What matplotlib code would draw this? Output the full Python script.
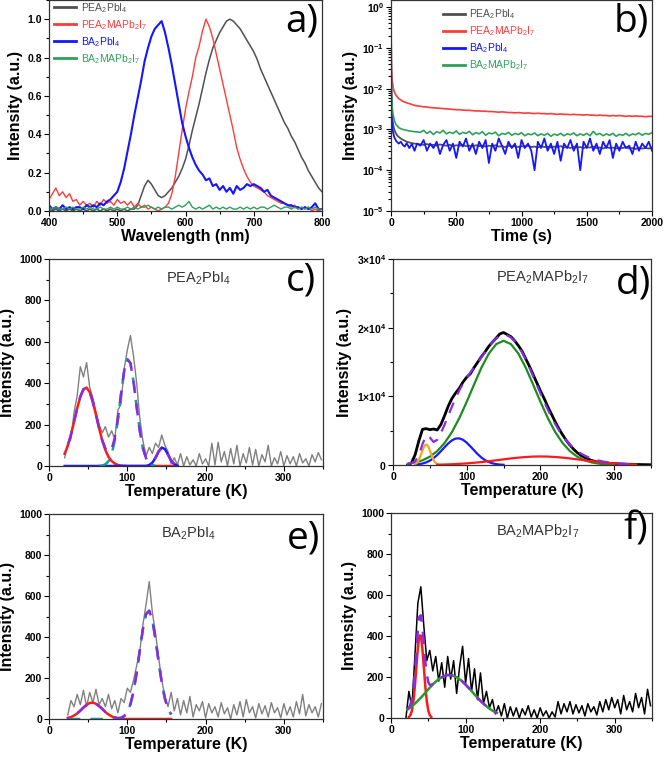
import numpy as np
import matplotlib.pyplot as plt
from matplotlib.ticker import MultipleLocator, LogLocator, NullFormatter, FixedLocator

FONT = 'Liberation Sans'
plt.rcParams['font.family'] = [FONT, 'DejaVu Sans']
plt.rcParams['mathtext.fontset'] = 'custom'
plt.rcParams['mathtext.rm'] = FONT
plt.rcParams['mathtext.bf'] = FONT + ':bold'
plt.rcParams['mathtext.it'] = FONT + ':italic'
plt.rcParams['mathtext.default'] = 'regular'

names = [r'PEA$_2$PbI$_4$', r'PEA$_2$MAPb$_2$I$_7$', r'BA$_2$PbI$_4$', r'BA$_2$MAPb$_2$I$_7$']
colors_a = ['#505050', '#ff3b3b', '#1515ff', '#2ea05a']

# ---- a) PL spectra, 400..800 nm every 5 nm
wl_start, wl_step = 400, 5
pl_pea = [0.01, 0.0, 0.01, 0.0, 0.01, 0.0, 0.01, 0.0, 0.01, 0.0,
          0.01, 0.0, 0.01, 0.0, 0.01, 0.0, 0.01, 0.0, 0.01, 0.0,
          0.01, 0.0, 0.01, 0.0, 0.01, 0.01,
          0.03, 0.08, 0.13, 0.16, 0.14, 0.11, 0.08, 0.07, 0.08, 0.10,
          0.12, 0.15, 0.18, 0.22, 0.27, 0.34, 0.42, 0.49, 0.56, 0.64,
          0.72, 0.79, 0.85, 0.89, 0.93, 0.96, 0.99, 1.0, 0.99, 0.97,
          0.95, 0.92, 0.89, 0.86, 0.83, 0.79, 0.74, 0.70, 0.66, 0.62,
          0.58, 0.54, 0.50, 0.46, 0.43, 0.39, 0.36, 0.32, 0.28, 0.25,
          0.21, 0.18, 0.15, 0.12, 0.10]
pl_pea_ma = [0.06, 0.09, 0.12, 0.08, 0.10, 0.07, 0.09, 0.05, 0.06, 0.03,
             0.05, 0.03, 0.04, 0.02, 0.05, 0.03, 0.06, 0.04, 0.05, 0.03,
             0.06, 0.04, 0.05, 0.03, 0.05, 0.02, 0.04, 0.02, 0.03, 0.01,
             0.02, 0.01, 0.00, 0.01, 0.02, 0.04, 0.09, 0.18, 0.30, 0.42,
             0.53, 0.62, 0.70, 0.80, 0.86, 0.94, 1.00, 0.96, 0.90, 0.82,
             0.74, 0.66, 0.58, 0.50, 0.42, 0.33, 0.27, 0.22, 0.18, 0.15,
             0.13, 0.12, 0.11, 0.10, 0.08, 0.07, 0.06, 0.05, 0.04, 0.04,
             0.03, 0.02, 0.03, 0.01, 0.02, 0.01, 0.02, 0.00, 0.01, 0.00, 0.01]
pl_ba = [0.03, 0.01, 0.02, 0.01, 0.03, 0.01, 0.02, 0.01, 0.02, 0.02,
         0.01, 0.03, 0.02, 0.03, 0.02, 0.04, 0.03, 0.05, 0.06, 0.08,
         0.10, 0.15, 0.22, 0.31, 0.40, 0.50, 0.59, 0.68, 0.78, 0.85,
         0.91, 0.95, 0.97, 0.99, 0.93, 0.85, 0.76, 0.66, 0.56, 0.46,
         0.39, 0.33, 0.28, 0.24, 0.21, 0.19, 0.16, 0.17, 0.13, 0.14,
         0.11, 0.13, 0.10, 0.12, 0.09, 0.13, 0.11, 0.12, 0.14, 0.13,
         0.14, 0.13, 0.12, 0.10, 0.11, 0.08, 0.07, 0.06, 0.05, 0.04,
         0.03, 0.03, 0.02, 0.02, 0.01, 0.02, 0.01, 0.02, 0.04, 0.01, 0.01]
pl_ba_ma = [0.02, 0.01, 0.02, 0.01, 0.01, 0.02, 0.01, 0.02, 0.01, 0.01,
            0.02, 0.01, 0.02, 0.01, 0.01, 0.02, 0.01, 0.01, 0.02, 0.01,
            0.02, 0.01, 0.01, 0.02, 0.01, 0.02, 0.01, 0.02, 0.02, 0.03,
            0.02, 0.01, 0.02, 0.01, 0.02, 0.02, 0.01, 0.02, 0.03, 0.02,
            0.03, 0.05, 0.02, 0.01, 0.02, 0.01, 0.02, 0.03, 0.01, 0.02,
            0.01, 0.02, 0.01, 0.02, 0.01, 0.01, 0.02, 0.01, 0.02, 0.01,
            0.02, 0.01, 0.02, 0.02, 0.01, 0.02, 0.03, 0.02, 0.01, 0.02,
            0.02, 0.01, 0.02, 0.01, 0.02, 0.01, 0.02, 0.01, 0.02, 0.01, 0.01]

# ---- b) decay, values in units of 1e-3
t_early = [0, 2, 4, 6, 8, 10, 13, 16, 20, 25, 30, 40, 50, 60, 75, 90, 105, 120, 140, 160, 180, 200]
t_late_start, t_late_step = 225, 25
dec_pea = [1000, 20, 6, 3.5, 2.6, 2.0, 1.6, 1.35, 1.15, 1.0, 0.9, 0.78, 0.7, 0.65, 0.6, 0.56,
           0.53, 0.5, 0.48, 0.46, 0.45, 0.44,
           0.43, 0.42, 0.44, 0.41, 0.42, 0.40, 0.43, 0.41, 0.40, 0.42, 0.39, 0.41,
           0.40, 0.42, 0.39, 0.40, 0.38, 0.41, 0.39, 0.40, 0.38, 0.40, 0.39, 0.41,
           0.38, 0.39, 0.37, 0.40, 0.38, 0.39, 0.37, 0.39, 0.38, 0.40, 0.37, 0.38,
           0.36, 0.39, 0.37, 0.38, 0.36, 0.38, 0.37, 0.39, 0.36, 0.37, 0.35, 0.38,
           0.36, 0.37, 0.35, 0.37, 0.36, 0.38, 0.35, 0.36, 0.34, 0.37, 0.35, 0.36,
           0.34, 0.36, 0.35, 0.37, 0.34, 0.35, 0.33, 0.36, 0.34, 0.35, 0.34, 0.36]
dec_pea_ma = [1000, 50, 30, 22, 18, 15, 13, 11, 9.5, 8.5, 7.7, 6.8, 6.2, 5.7, 5.3, 4.9,
              4.7, 4.5, 4.3, 4.1, 3.9, 3.8,
              3.7, 3.6, 3.55, 3.45, 3.4, 3.35, 3.3, 3.25, 3.2, 3.15, 3.1, 3.05,
              3.05, 3.0, 2.95, 2.95, 2.9, 2.85, 2.85, 2.8, 2.8, 2.75, 2.75, 2.7,
              2.65, 2.7, 2.65, 2.6, 2.6, 2.55, 2.6, 2.55, 2.5, 2.55, 2.5, 2.45,
              2.5, 2.45, 2.45, 2.4, 2.45, 2.4, 2.35, 2.4, 2.35, 2.35, 2.3, 2.35,
              2.3, 2.3, 2.25, 2.3, 2.25, 2.25, 2.2, 2.25, 2.2, 2.2, 2.15, 2.2,
              2.15, 2.2, 2.15, 2.1, 2.15, 2.1, 2.15, 2.1, 2.1, 2.05, 2.1, 2.1]
dec_ba = [1000, 8, 2.5, 1.6, 1.3, 1.1, 0.95, 0.85, 0.75, 0.65, 0.6, 0.52, 0.48, 0.45, 0.5, 0.42,
          0.38, 0.46, 0.35, 0.44, 0.3, 0.45,
          0.4, 0.55, 0.3, 0.45, 0.35, 0.5, 0.25, 0.42, 0.55, 0.3, 0.45, 0.2,
          0.5, 0.38, 0.6, 0.3, 0.45, 0.25, 0.5, 0.35, 0.55, 0.15, 0.45, 0.3,
          0.6, 0.4, 0.25, 0.5, 0.35, 0.45, 0.2, 0.55, 0.35, 0.45, 0.3, 0.1,
          0.5, 0.35, 0.6, 0.3, 0.45, 0.25, 0.5, 0.17, 0.45, 0.35, 0.55, 0.3,
          0.45, 0.1, 0.5, 0.35, 0.6, 0.3, 0.45, 0.25, 0.5, 0.35, 0.55, 0.2,
          0.45, 0.3, 0.5, 0.35, 0.4, 0.25, 0.5, 0.3, 0.45, 0.35, 0.5, 0.3]
dec_ba_ma = [1000, 30, 8, 5, 4, 3.3, 2.7, 2.3, 2.0, 1.7, 1.5, 1.3, 1.2, 1.1, 1.05, 1.0,
             0.98, 0.95, 0.92, 0.9, 0.88, 0.87,
             0.85, 0.95, 0.8, 0.9, 0.75, 0.88, 0.82, 0.95, 0.78, 0.86, 0.8, 0.92,
             0.76, 0.85, 0.8, 0.9, 0.74, 0.84, 0.78, 0.88, 0.72, 0.82, 0.78, 0.86,
             0.7, 0.8, 0.76, 0.85, 0.72, 0.8, 0.75, 0.83, 0.7, 0.78, 0.74, 0.82,
             0.7, 0.78, 0.72, 0.8, 0.68, 0.77, 0.72, 0.8, 0.7, 0.78, 0.74, 0.82,
             0.7, 0.78, 0.72, 0.8, 0.7, 0.9, 0.74, 0.8, 0.7, 0.78, 0.72, 0.8,
             0.68, 0.76, 0.72, 0.8, 0.7, 0.78, 0.74, 0.82, 0.72, 0.8, 0.76, 0.84]

# ---- c) PEA2PbI4 TL, data from 20 K every 4 K
c_counts = [40, 110, 130, 260, 340, 480, 430, 500, 380, 330,
            260, 200, 160, 190, 140, 170, 130, 270, 300, 470,
            560, 630, 530, 400, 230, 120, 50, 90, 60, 110,
            90, 150, 100, 70, 10, 40, 5, 60, 0, 45,
            5, 30, 0, 60, 10, 35, 0, 110, 5, 115,
            20, 70, 0, 85, 10, 100, 0, 60, 15, 90,
            5, 80, 0, 55, 20, 100, 0, 40, 10, 70,
            0, 50, 10, 45, 0, 60, 15, 35, 0, 55,
            20, 65, 30]
c_fit_red = [59, 98, 151, 214, 279, 335, 371, 379, 357, 309, 247, 182, 123, 77, 44, 24, 12, 5, 2, 1,
             0, 0, 0, 0, 0, 0, 0, 0, 0, 0, 0, 0, 0, 0, 0, 0, 0]
c_fit_teal = [1, 2, 8, 23, 57, 123, 223, 347, 459, 517, 497, 407, 284, 169, 85, 37, 14, 4, 1]
c_fit_blue = [0] * 27 + [5, 16, 39, 70, 89, 82, 55, 26, 9, 2]
c_fit_sum = [59, 98, 151, 214, 279, 335, 371, 379, 357, 309, 247, 183, 125, 85, 67, 81, 135, 228,
             349, 460, 517, 497, 407, 284, 169, 85, 37, 19, 20, 40, 70, 89, 82, 55, 26, 9, 2]

# ---- d) PEA2MAPb2I7 TL
d_counts = [0, 300, 1500, 3500, 5200, 5300, 5150, 5250, 5100, 5900,
            7200, 8600, 9700, 10500, 11200, 12100, 12800, 13300, 14200, 15000,
            15800, 16500, 17300, 17900, 18500, 19100, 19300, 19000, 18700, 18100,
            17400, 16600, 15500, 14400, 13200, 12000, 10800, 9700, 8500, 7400,
            6300, 5300, 4400, 3600, 2900, 2300, 1800, 1400, 1100, 850,
            650, 500, 400, 330, 280, 240, 200, 180, 150, 130,
            110, 100, 80, 70, 60, 50, 40]
d_fit_green = [188, 369, 688, 1210, 2025, 3210, 4810, 6840, 9210, 11740, 14190, 16240, 17610, 18100,
               17610, 16240, 14190, 11740, 9210, 6840, 4810, 3210, 2025, 1210, 688, 369, 188, 90, 42]
d_fit_blue = [58, 117, 219, 386, 641, 999, 1463, 2014, 2602, 3157, 3600, 3856, 3880, 3670, 3257,
              2718, 2130, 1568, 1084, 705, 430, 247, 133, 67, 32]
d_fit_orange = [132, 286, 559, 974, 1519, 2121, 2647, 2959, 2959, 2647, 2121, 1519, 974, 559, 286, 132, 55]
d_fit_red = [49, 77, 116, 169, 240, 328, 434, 556, 690, 827, 960, 1077, 1170, 1230, 1250, 1230, 1170,
             1077, 960, 827, 690, 556, 434, 328, 240, 169, 116, 77]
d_fit_sum = [197, 283, 572, 1388, 3048, 4329, 4003, 3361, 3669, 4666,
             5889, 7202, 8526, 9776, 10889, 11860, 12707, 13461, 14198, 14948,
             15708, 16489, 17226, 17899, 18433, 18804, 18959, 18874, 18570, 18051,
             17317, 16418, 15360, 14204, 12970, 11705, 10460, 9235, 8070, 6979,
             5980, 5083, 4287, 3591, 2985, 2469, 2037, 1676, 1378, 1129,
             925, 758, 622, 510, 418, 342, 282, 230, 189, 152, 126]

# ---- e) BA2PbI4 TL, data from 24 K every 4 K
e_counts = [20, 90, 60, 120, 70, 140, 60, 130, 80, 145,
            70, 100, 60, 120, 50, 90, 30, 100, 80, 150,
            130, 190, 260, 330, 460, 560, 670, 520, 420, 300,
            190, 110, 60, 130, 40, 100, 20, 90, 30, 110,
            10, 70, 40, 85, 5, 75, 30, 60, 10, 80,
            25, 55, 0, 70, 20, 85, 10, 95, 30, 60,
            5, 75, 25, 65, 10, 80, 30, 55, 5, 75,
            20, 60, 10, 85, 25, 120, 15, 70, 30, 60,
            10, 75]
e_fit_red = [5, 9, 17, 27, 41, 56, 69, 78, 80, 74, 63, 49, 34, 22, 13, 7, 3, 1] + [0] * 16
e_fit_teal = [0] * 15 + [1, 2, 5, 14, 34, 72, 135, 226, 336, 440, 512, 528, 482, 390, 280, 178, 100, 50, 22]
e_fit_sum = [5, 9, 17, 27, 41, 56, 69, 78, 80, 74, 63, 49, 34, 22, 13, 8, 5, 6, 14, 34, 72, 135,
             226, 336, 440, 512, 528, 482, 390, 280, 178, 100, 50, 22]

# ---- f) BA2MAPb2I7 TL, data from 20 K every 4 K
f_counts = [0, 130, 50, 300, 560, 640, 450, 280, 330, 230,
            300, 180, 270, 150, 300, 190, 280, 120, 250, 350,
            170, 290, 130, 240, 90, 220, 70, 130, 50, 90,
            20, 60, 10, 70, 0, 55, 10, 50, 0, 45,
            15, 60, 5, 40, 0, 50, 10, 35, 0, 30,
            5, 80, 20, 70, 30, 80, 20, 65, 25, 60,
            10, 70, 30, 55, 15, 80, 30, 90, 40, 100,
            50, 90, 20, 110, 40, 80, 30, 120, 50, 100,
            20, 140, 60]
f_fit_red = [5, 14, 36, 81, 154, 249, 342, 402, 402, 342, 249, 154, 81, 36, 14, 5]
f_fit_green = [41, 57, 77, 99, 123, 148, 171, 190, 203, 210, 208, 199, 184, 163, 140, 115, 91, 70, 51, 36, 25]
f_sum_t = [22, 24, 26, 28, 30, 32, 34, 36, 38, 40, 42, 44, 46, 48, 50, 52, 54,
           58, 64, 70, 76, 82, 88, 94, 100, 106, 112, 118, 124, 130, 136, 142]
f_fit_sum = [43, 51, 64, 93, 144, 224, 326, 426, 494, 501, 449, 364, 277, 212, 175, 162, 161,
             171, 190, 203, 210, 208, 199, 184, 163, 140, 115, 91, 70, 51, 36, 25]


def grid(start, step, vals):
    return start + step * np.arange(len(vals))


def style(ax, xlabel):
    ax.set_xlabel(xlabel, fontsize=11.5, labelpad=1, fontfamily=FONT, fontweight='bold')
    ax.set_ylabel('Intensity (a.u.)', fontsize=11.5, labelpad=3, fontfamily=FONT, fontweight='bold')
    ax.tick_params(which='both', direction='out', labelsize=7.5, width=0.8, pad=1.5)
    ax.tick_params(which='major', length=3.5)
    ax.tick_params(which='minor', length=2)
    for s in ax.spines.values():
        s.set_linewidth(0.9)
        s.set_color('#333333')


def bold_ticks(ax):
    for lbl in ax.get_xticklabels() + ax.get_yticklabels():
        lbl.set_fontfamily(FONT)
        lbl.set_fontweight('bold')


def letter(ax, txt, x, y):
    ax.text(x, y, txt, transform=ax.transAxes, ha='right', va='top', fontsize=28,
            fontweight='normal', fontfamily=['Open Sans', 'DejaVu Sans'])


def sample(ax, txt, x, y):
    ax.text(x, y, txt, transform=ax.transAxes, ha='center', va='top', fontsize=10.5,
            fontweight='normal', fontfamily=FONT, color='#333333')


legend_font = {'family': FONT, 'size': 7.5, 'weight': 'normal'}

fig = plt.figure(figsize=(6.66, 7.57), dpi=100)
ax_a = fig.add_axes([0.0736, 0.7213, 0.4099, 0.2787])
ax_b = fig.add_axes([0.5871, 0.7213, 0.3919, 0.2787])
ax_c = fig.add_axes([0.0736, 0.3844, 0.4114, 0.2734])
ax_d = fig.add_axes([0.5901, 0.3857, 0.3874, 0.2721])
ax_e = fig.add_axes([0.0736, 0.0502, 0.4114, 0.2708])
ax_f = fig.add_axes([0.5871, 0.0515, 0.3919, 0.2708])

# a
for vals, name, col, lw in zip([pl_pea, pl_pea_ma, pl_ba, pl_ba_ma], names, colors_a, [1.1, 1.0, 1.5, 1.0]):
    ax_a.plot(grid(wl_start, wl_step, vals), vals, color=col, lw=lw, label=name)
ax_a.set_xlim(400, 800)
ax_a.set_ylim(0, 1.1)
ax_a.set_xticks([400, 500, 600, 700, 800])
ax_a.set_yticks([0, 0.2, 0.4, 0.6, 0.8, 1.0])
ax_a.xaxis.set_minor_locator(MultipleLocator(50))
ax_a.yaxis.set_minor_locator(MultipleLocator(0.1))
style(ax_a, 'Wavelength (nm)')
leg = ax_a.legend(loc='upper left', bbox_to_anchor=(0.02, 0.995), frameon=False, handlelength=2.1,
                  handletextpad=0.4, labelspacing=0.3, borderaxespad=0, borderpad=0,
                  prop=legend_font, labelcolor='linecolor')
for h in leg.get_lines():
    h.set_linewidth(2)
letter(ax_a, 'a)', 0.985, 0.99)

# b
t_all = np.concatenate([t_early, grid(t_late_start, t_late_step, dec_pea[len(t_early):])])
for vals, name, col, lw in zip([dec_pea, dec_pea_ma, dec_ba, dec_ba_ma], names, colors_a, [1.3, 1.2, 1.3, 1.2]):
    ax_b.plot(t_all, np.array(vals) * 1e-3, color=col, lw=lw, label=name)
ax_b.set_yscale('log')
ax_b.set_xlim(0, 2000)
ax_b.set_ylim(1e-5, 1.5)
ax_b.set_xticks([0, 500, 1000, 1500, 2000])
ax_b.xaxis.set_minor_locator(MultipleLocator(250))
ax_b.yaxis.set_major_locator(FixedLocator([1e-5, 1e-4, 1e-3, 1e-2, 1e-1, 1]))
ax_b.set_yticklabels([r'$\mathbf{10^{-5}}$', r'$\mathbf{10^{-4}}$', r'$\mathbf{10^{-3}}$',
                      r'$\mathbf{10^{-2}}$', r'$\mathbf{10^{-1}}$', r'$\mathbf{10^{0}}$'])
ax_b.yaxis.set_minor_locator(LogLocator(base=10, subs=np.arange(2, 10)))
ax_b.yaxis.set_minor_formatter(NullFormatter())
style(ax_b, 'Time (s)')
leg = ax_b.legend(loc='upper left', bbox_to_anchor=(0.2, 0.965), frameon=False, handlelength=2.1,
                  handletextpad=0.4, labelspacing=0.3, borderaxespad=0, borderpad=0,
                  prop=legend_font, labelcolor='linecolor')
for h in leg.get_lines():
    h.set_linewidth(2)
letter(ax_b, 'b)', 0.99, 0.99)

purple = '#8a2be2'
teal = '#1a9a9a'

# c
ax_c.plot(grid(20, 4, c_counts), c_counts, color='#808080', lw=1.0)
ax_c.plot(grid(20, 4, c_fit_red), c_fit_red, color='#ff1a1a', lw=1.8)
ax_c.plot(grid(20, 4, c_fit_blue), c_fit_blue, color='#1a1aff', lw=1.8)
ax_c.plot(grid(64, 4, c_fit_teal), c_fit_teal, color=teal, lw=1.8, ls=(0, (5, 4)))
ax_c.plot(grid(20, 4, c_fit_sum), c_fit_sum, color=purple, lw=1.8, ls=(4.5, (5, 4)))
sample(ax_c, names[0], 0.546, 0.95)
letter(ax_c, 'c)', 0.975, 0.99)

# d
ax_d.plot(grid(20, 5, d_counts), d_counts, color='black', lw=2.0)
ax_d.plot(grid(20, 10, d_fit_green), d_fit_green, color='#1e8c1e', lw=1.6)
ax_d.plot(grid(30, 5, d_fit_blue), d_fit_blue, color='#1a1aff', lw=1.6)
ax_d.plot(grid(30, 2, d_fit_orange), d_fit_orange, color='#f5a623', lw=1.6)
ax_d.plot(grid(60, 10, d_fit_red), d_fit_red, color='#ff1a1a', lw=1.6)
ax_d.plot(grid(20, 5, d_fit_sum), d_fit_sum, color=purple, lw=1.6, ls=(0, (5, 4)))
ax_d.set_ylim(0, 30000)
ax_d.set_yticks([0, 10000, 20000, 30000])
ax_d.set_yticklabels([r'$\mathbf{0}$', r'$\mathbf{1{\times}10^4}$', r'$\mathbf{2{\times}10^4}$',
                      r'$\mathbf{3{\times}10^4}$'])
ax_d.yaxis.set_minor_locator(MultipleLocator(5000))
sample(ax_d, names[1], 0.578, 0.955)
letter(ax_d, 'd)', 1.0, 0.975)

# e
ax_e.plot(grid(24, 4, e_counts), e_counts, color='#808080', lw=1.0)
ax_e.plot(grid(24, 4, e_fit_red), e_fit_red, color='#ff1a1a', lw=1.8)
ax_e.plot(grid(24, 4, e_fit_teal), e_fit_teal, color=teal, lw=1.8, ls=(0, (5, 4)))
ax_e.plot(grid(24, 4, e_fit_sum), e_fit_sum, color=purple, lw=1.8, ls=(4.5, (5, 4)))
sample(ax_e, names[2], 0.511, 0.95)
letter(ax_e, 'e)', 0.99, 0.975)

# f
ax_f.plot(grid(20, 4, f_counts), f_counts, color='black', lw=1.1)
ax_f.plot(grid(24, 2, f_fit_red), f_fit_red, color='#ff1a1a', lw=1.8)
ax_f.plot(grid(22, 6, f_fit_green), f_fit_green, color='#2a9a2a', lw=1.8)
ax_f.plot(f_sum_t, f_fit_sum, color=purple, lw=1.8, ls=(0, (5, 4)))
sample(ax_f, names[3], 0.563, 0.955)
letter(ax_f, 'f)', 0.985, 1.01)

for ax in [ax_c, ax_e, ax_f]:
    ax.set_ylim(0, 1000)
    ax.set_yticks([0, 200, 400, 600, 800, 1000])
    ax.yaxis.set_minor_locator(MultipleLocator(100))
for ax in [ax_c, ax_d, ax_e, ax_f]:
    ax.set_xlim(0, 350)
    ax.set_xticks([0, 100, 200, 300])
    ax.xaxis.set_minor_locator(MultipleLocator(50))
    style(ax, 'Temperature (K)')

for ax in [ax_a, ax_b, ax_c, ax_d, ax_e, ax_f]:
    bold_ticks(ax)

fig.savefig('out.png', dpi=100)
